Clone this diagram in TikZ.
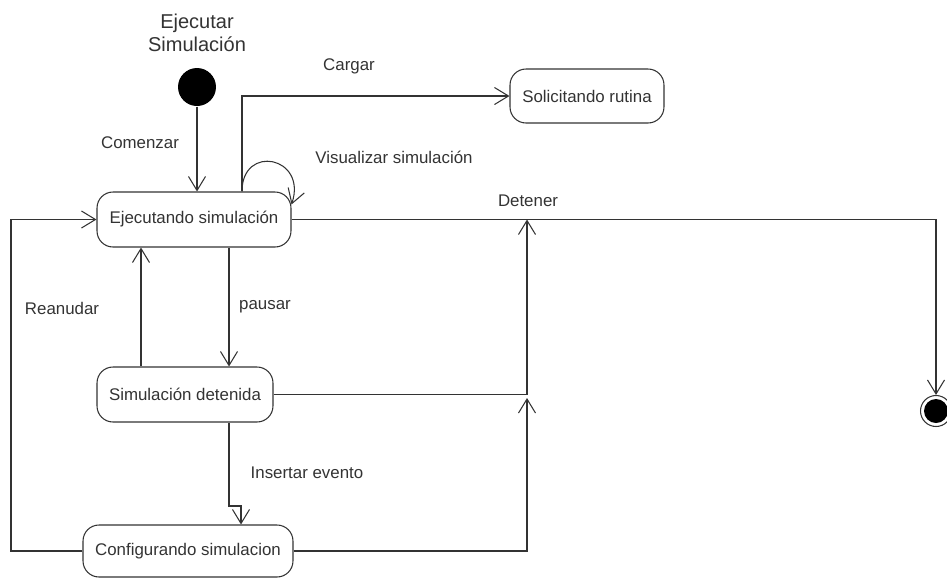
\documentclass[tikz,border=0pt]{standalone}
\usepackage{fontspec}
\setmainfont{Liberation Sans}
\usetikzlibrary{arrows.meta}
\usetikzlibrary{positioning}

\begin{document}
\begin{tikzpicture}[x=0.02cm, y=-0.02cm, font=\fontsize{9.6}{11.5}\selectfont,
  color=black!80, line width=0.6pt,
  st/.style={draw, rounded corners=0.32cm, minimum height=1.1cm, inner sep=0pt},
  edge/.style={draw, -{Straight Barb[length=2.8mm, width=3.4mm]}},
  pin/.style={circle, inner sep=0pt, fill=black},
]
\useasboundingbox (0,0) rectangle (947,579);
%initial and final states
\node[pin, minimum size=0.76cm] (start) at (197,87) {};
\node[align=center, font=\fontsize{11.4}{13.5}\selectfont] (start-name) [above=0.18cm of start] {Ejecutar\\Simulación};
\node[circle, draw, inner sep=0pt, minimum size=0.62cm] (end) at (936,411) {};
\node[pin, minimum size=0.48cm] (end-dot) at (end) {};
%states
\node[st, minimum width=3.88cm] (run) at (194,219.5) {Ejecutando simulación};
\node[st, minimum width=3.08cm, minimum height=1.08cm] (load) at (587,96) {Solicitando rutina};
\node[st, minimum width=3.52cm] (pause) at (185,394.5) {Simulación detenida};
\node[st, minimum width=4.2cm, minimum height=1.04cm] (conf) at (188,551) {Configurando simulacion};
%junctions on the stop line
\coordinate (stop) at (527,219.5);
\coordinate (join) at (527,398);

%transitions
\draw[edge] (start) -- (start |- run.north);
\draw[edge] ([xshift=0.96cm]run.north) |- (load.west);
\draw[edge] ([xshift=0.96cm]run.north) .. controls +(0,-48) and +(16,-48) .. ([yshift=-0.26cm]run.north east);
\draw[edge] (run.east) -| (end.north);
\draw[edge] (run.south -| 229,0) -- (pause.north -| 229,0);
\draw[edge] (pause.north -| 141,0) -- (run.south -| 141,0);
\draw[edge] (pause.east) -| (stop);
\draw[edge] (pause.south -| 229,0) -- (229,506) -- (241,506) -- (conf.north -| 241,0);
\draw[edge] (conf.west) -- (conf.west -| 11,0) |- (run.west);
\draw[edge] (conf.east) -| (join);

\foreach \x/\y/\name/\txt in {140/143/l-begin/Comenzar, 349/66/l-load/Cargar,
  394/157/l-show/Visualizar simulación, 528/201/l-stop/Detener,
  265/307/l-pause/pausar, 62/308/l-resume/Reanudar, 307/473/l-event/Insertar evento}
\node (\name) at (\x,\y) {\txt};
\end{tikzpicture}
\end{document}
